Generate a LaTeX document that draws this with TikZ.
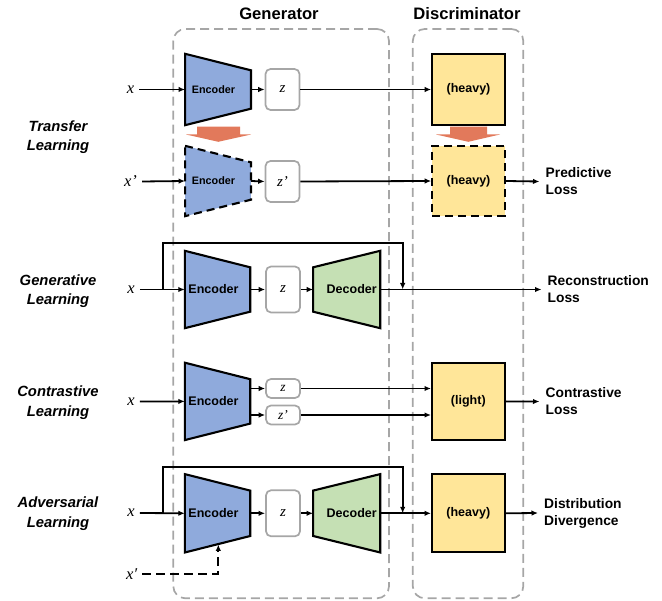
\documentclass[tikz,border=0pt]{standalone}
\usepackage{fontspec}
\setmainfont{Liberation Sans}
\newfontfamily\tmsfont{Liberation Serif}
\usetikzlibrary{arrows.meta,calc,backgrounds}
\definecolor{encblue}{HTML}{8FAADC}
\definecolor{decgreen}{HTML}{C5E0B4}
\definecolor{discyellow}{HTML}{FFE699}
\definecolor{tforange}{HTML}{E2795B}
\definecolor{boxgray}{HTML}{A6A6A6}
\newcommand\encshape[2]{%
  \draw[shapeline,fill=encblue,#2] (#1.north west) -- ([yshift=-16.5pt]#1.north east) -- ([yshift=16.5pt]#1.south east) -- (#1.south west) -- cycle;}
\newcommand\decshape[1]{%
  \draw[shapeline,fill=decgreen] ([yshift=-16.5pt]#1.north west) -- (#1.north east) -- (#1.south east) -- ([yshift=16.5pt]#1.south west) -- cycle;}
\begin{document}
\begin{tikzpicture}[x=1pt,y=-1pt,
  arr/.style={line width=1.8pt,-{Latex[length=6.5pt,width=5.5pt]}},
  shapeline/.style={line width=2.1pt,line join=miter},
  lblS/.style={font=\bfseries\fontsize{10.8}{12}\selectfont,inner sep=0pt},
  lblL/.style={font=\bfseries\fontsize{12.5}{14}\selectfont,inner sep=0pt},
  encS/.style={inner sep=0pt,minimum width=65.5pt,minimum height=#1,label={[lblS,xshift=-4.5pt]center:Encoder}},
  encL/.style={inner sep=0pt,minimum width=65pt,minimum height=#1,label={[lblL,xshift=-4pt]center:Encoder}},
  decL/.style={inner sep=0pt,minimum width=66.7pt,minimum height=77pt,label={[lblL,xshift=5pt]center:Decoder}},
  zbox/.style={draw=boxgray,line width=1.7pt,rounded corners=5pt,fill=white,minimum width=34pt,minimum height=#1,inner sep=0pt,font=\tmsfont\itshape\fontsize{15}{16}\selectfont},
  disc/.style={draw=black,line width=2.1pt,fill=discyellow,minimum width=72.5pt,minimum height=#1,inner sep=0pt,font=\bfseries\fontsize{12.5}{14}\selectfont},
  groupbox/.style={draw=boxgray,line width=1.7pt,dash pattern=on 9pt off 5pt,rounded corners=12pt,inner sep=0pt},
  inlbl/.style={font=\tmsfont\itshape\fontsize{16.5}{18}\selectfont,inner xsep=5pt,inner ysep=0pt},
  losstxt/.style={font=\bfseries\fontsize{13.8}{17}\selectfont,align=left,anchor=west,inner xsep=6pt,inner ysep=0pt},
  rowlbl/.style={font=\bfseries\itshape\fontsize{14.8}{19.5}\selectfont,align=center},
  titletxt/.style={font=\bfseries\fontsize{16.6}{18}\selectfont}
]
\useasboundingbox (0,0) rectangle (662,601);

% group boxes and titles
\node[groupbox,minimum width=215.7pt,minimum height=569.3pt] (gen) at (281.15,313.65) {};
\node[groupbox,minimum width=110.5pt,minimum height=569.3pt] (disc) at (468.05,313.65) {};
\node[titletxt] (gentitle) at (279,14) {Generator};
\node[titletxt] (disctitle) at (467,14) {Discriminator};

% row labels
\node[rowlbl] (rl1) at (58,137) {Transfer\\Learning};
\node[rowlbl] (rl2) at (58,291.3) {Generative\\Learning};
\node[rowlbl] (rl3) at (58,402.7) {Contrastive\\Learning};
\node[rowlbl] (rl4) at (58,513.7) {Adversarial\\Learning};

% ---------- Transfer learning ----------
\node[encS=71pt] (enc1) at (218,89.5) {};
\node[zbox=41pt] (z1) at (282.5,89.5) {z};
\node[disc=71pt] (heavy1) at (468.5,89.5) {(heavy)};
\node[inlbl] (x1) at (130.5,89.5) {x};

\node[encS=70pt] (enc2) at (218,181) {};
\node[zbox=41pt] (z2) at (282.5,181.5) {z’};
\node[disc=70pt,dash pattern=on 8pt off 5pt] (heavy2) at (468.5,181) {(heavy)};
\node[inlbl] (x2) at (130.5,181.5) {x’};
\node[losstxt] (loss2) at (539.5,181.5) {Predictive\\Loss};

% ---------- Generative learning ----------
\node[encL=77pt] (enc3) at (217.5,289.5) {};
\node[zbox=46pt] (z3) at (283,289.5) {z};
\node[decL] (dec3) at (346.7,289.5) {};
\node[inlbl] (x3) at (131,289.5) {x};
\node[losstxt] (loss3) at (541.5,289.5) {Reconstruction\\Loss};

% ---------- Contrastive learning ----------
\node[encL=77pt] (enc4) at (217.5,401.4) {};
\node[zbox=19pt,font=\tmsfont\itshape\fontsize{13.5}{14}\selectfont] (zc1) at (283,388.5) {z};
\node[zbox=19pt,font=\tmsfont\itshape\fontsize{13.5}{14}\selectfont] (zc2) at (283,415) {z’};
\node[disc=77pt] (light4) at (468.3,401.4) {(light)};
\node[inlbl] (x4) at (131,401.5) {x};
\node[losstxt] (loss4) at (539.5,401.5) {Contrastive\\Loss};

% ---------- Adversarial learning ----------
\node[encL=78pt] (enc5) at (217.5,513.3) {};
\node[zbox=46pt] (z5) at (283,513.3) {z};
\node[decL,minimum height=78pt] (dec5) at (346.7,513.3) {};
\node[disc=78pt] (heavy5) at (468.3,513.3) {(heavy)};
\node[inlbl] (x5) at (131,513) {x};
\node[inlbl] (xp5) at (131.7,574.3) {x′};
\node[losstxt] (loss5) at (538,513) {Distribution\\Divergence};

% shapes behind the labels
\begin{scope}[on background layer]
  \encshape{enc1}{}
  \encshape{enc2}{dash pattern=on 8pt off 5pt}
  \encshape{enc3}{}
  \decshape{dec3}
  \encshape{enc4}{}
  \encshape{enc5}{}
  \decshape{dec5}
\end{scope}

% transfer arrows (orange)
\fill[tforange] (197,126.7) -- (240,126.7) -- (240,134.5) -- (251,134.5) -- (218.3,141.8) -- (186,134.5) -- (197,134.5) -- cycle;
\fill[tforange] (450,126.7) -- (487,126.7) -- (487,134.5) -- (500,134.5) -- (468.3,141.8) -- (436,134.5) -- (450,134.5) -- cycle;

% connectors: transfer
\draw[arr] (x1.east) -- (enc1.west);
\draw[arr] (enc1.east) -- (z1.west);
\draw[arr] (z1.east) -- (heavy1.west);
\draw[arr] (x2.east) -- (enc2.west);
\draw[arr] (enc2.east) -- (z2.west);
\draw[arr] (z2.east) -- (heavy2.west);
\draw[arr] (heavy2.east) -- (loss2.west);

% connectors: generative
\coordinate (br3) at (163.3,289.5);
\coordinate (top3) at (402.7,242.7);
\coordinate (fb3) at (402.7,289.5);
\draw[arr] (x3.east) -- (enc3.west);
\draw[arr] (br3) |- (top3) -- (fb3);
\draw[arr] (enc3.east) -- (z3.west);
\draw[arr] (z3.east) -- (dec3.west);
\draw[arr] (dec3.east) -- (loss3.west);

% connectors: contrastive
\draw[arr] (x4.east) -- (enc4.west);
\draw[arr] (enc4.east |- zc1.west) -- (zc1.west);
\draw[arr] (enc4.east |- zc2.west) -- (zc2.west);
\draw[arr] (zc1.east) -- (light4.west |- zc1.east);
\draw[arr] (zc2.east) -- (light4.west |- zc2.east);
\draw[arr] (light4.east) -- (loss4.west);

% connectors: adversarial
\coordinate (br5) at (163.3,513.3);
\coordinate (top5) at (402.7,466.7);
\coordinate (fb5) at (402.7,513.3);
\coordinate (xin5) at (218.3,544.5);
\draw[arr] (x5.east) -- (enc5.west);
\draw[arr] (br5) |- (top5) -- (fb5);
\draw[arr] (enc5.east) -- (z5.west);
\draw[arr] (z5.east) -- (dec5.west);
\draw[arr] (dec5.east) -- (heavy5.west);
\draw[arr] (heavy5.east) -- (loss5.west);
\draw[arr,dash pattern=on 9pt off 5pt] (xp5.east) -| (xin5);
\end{tikzpicture}
\end{document}
